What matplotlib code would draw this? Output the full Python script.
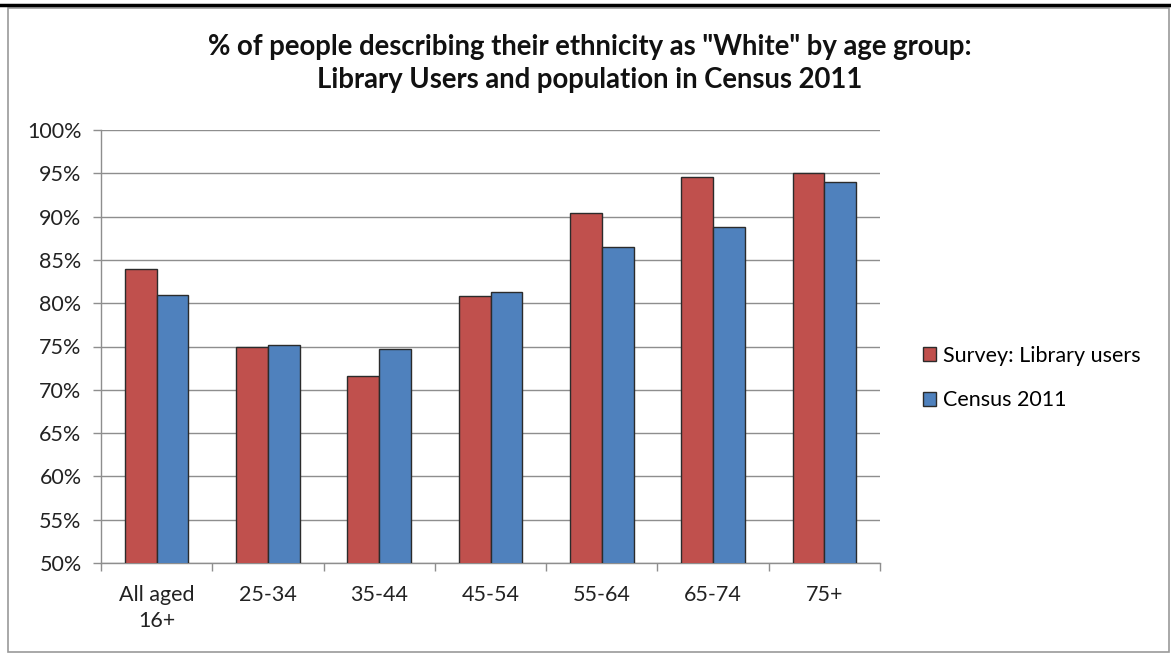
import numpy as np
import matplotlib.pyplot as plt
from matplotlib.patches import Rectangle
from matplotlib.lines import Line2D

# -------------------------
# DATA
# -------------------------

groups = ["All aged\n16+", "25-34", "35-44", "45-54", "55-64", "65-74", "75+"]
survey = [84.0, 75.0, 71.6, 80.8, 90.4, 94.6, 95.0]
census = [80.9, 75.2, 74.7, 81.3, 86.5, 88.8, 94.0]
series_names = ["Survey: Library users", "Census 2011"]

red = "#C0504D"
blue = "#4F81BD"
grid_col = "#8E8E8E"

plt.rcParams['font.family'] = ['Lato', 'DejaVu Sans']

W, H = 1171, 654
fig = plt.figure(figsize=(W / 100, H / 100), dpi=100)

# outer chart frame and top rule
fig.patches.append(Rectangle((8 / W, 1 - 652 / H), (1169 - 8) / W, (652 - 8) / H,
                             transform=fig.transFigure, fill=False,
                             edgecolor="#9A9A9A", linewidth=1.2))
fig.lines.append(Line2D([0, 1], [1 - 5 / H, 1 - 5 / H], transform=fig.transFigure,
                        color="black", linewidth=2.5))

ax = fig.add_axes([101 / W, 1 - 563 / H, (880 - 101) / W, (563 - 130) / H])

x = np.arange(len(groups))
bw = 0.285
b1 = ax.bar(x - bw / 2, survey, bw, color=red, edgecolor="#2b2b2b", linewidth=1.0,
            label=series_names[0], zorder=3)
b2 = ax.bar(x + bw / 2, census, bw, color=blue, edgecolor="#2b2b2b", linewidth=1.0,
            label=series_names[1], zorder=3)

ax.set_ylim(50, 100)
ax.set_xlim(-0.5, len(groups) - 0.5)
ax.set_yticks(np.arange(50, 101, 5))
ax.set_yticklabels([f"{v}%" for v in range(50, 101, 5)], fontsize=15.5, color="#222222")
ax.yaxis.grid(True, color=grid_col, linewidth=1.0, zorder=0)
ax.set_axisbelow(True)

ax.set_xticks(x)
ax.set_xticklabels(groups, fontsize=15.5, color="#222222", linespacing=1.35)
ax.set_xticks(np.arange(-0.5, len(groups), 1), minor=True)
ax.tick_params(axis="x", which="major", length=0, pad=16)
ax.tick_params(axis="x", which="minor", length=6, color=grid_col, width=1.0)
ax.tick_params(axis="y", length=6, color=grid_col, width=1.0, pad=8)

for side in ["top", "right"]:
    ax.spines[side].set_visible(False)
for side in ["left", "bottom"]:
    ax.spines[side].set_color(grid_col)
    ax.spines[side].set_linewidth(1.0)

fig.text(590 / W, 1 - 47 / H, '% of people describing their ethnicity as "White" by age group:',
         ha="center", va="center", fontsize=19.8, fontweight="bold", color="#111111")
fig.text(590 / W, 1 - 80 / H, 'Library Users and population in Census 2011',
         ha="center", va="center", fontsize=19.8, fontweight="bold", color="#111111")

fig.legend(handles=[b1, b2], loc="center left", bbox_to_anchor=(904 / W, 1 - 378 / H),
           frameon=False, fontsize=15.5, handlelength=0.6, handleheight=0.6,
           handletextpad=0.3, labelspacing=1.15)

fig.savefig("out.png", dpi=100)
